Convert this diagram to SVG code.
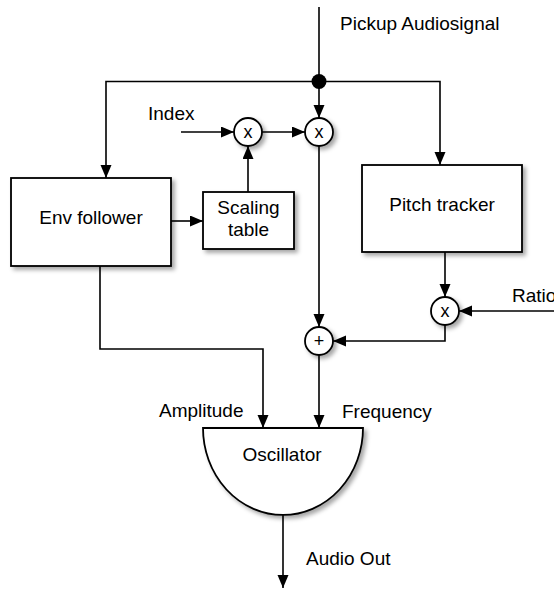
<svg xmlns="http://www.w3.org/2000/svg" width="554" height="591" viewBox="0 0 554 591">
<style>
  .ln{fill:none;stroke:#000;stroke-width:1.6}
  .bx{fill:#fff;stroke:#000;stroke-width:1.8;filter:url(#sh)}
  .t{font-family:"Liberation Sans",Arial,sans-serif;font-size:19px;fill:#000}
  .op{font-family:"Liberation Sans",Arial,sans-serif;font-size:18px;fill:#000;text-anchor:middle}
  .m{text-anchor:middle}
</style>
<defs>
  <marker id="ah" markerUnits="userSpaceOnUse" markerWidth="14" markerHeight="12" refX="13" refY="5.5" orient="auto">
    <path d="M0,0 L13,5.5 L0,11 Z" fill="#000"/>
  </marker>
  <filter id="sh" x="-20%" y="-20%" width="150%" height="150%">
    <feDropShadow dx="3" dy="3" stdDeviation="2" flood-color="#000" flood-opacity="0.35"/>
  </filter>
</defs>
<rect width="554" height="591" fill="#fff"/>

<g id="connectors">
  <path class="ln" d="M319,7 V81.5"/>
  <path class="ln" d="M319,81.5 H106 V178" marker-end="url(#ah)"/>
  <path class="ln" d="M319,81.5 H440 V165" marker-end="url(#ah)"/>
  <path class="ln" d="M319,81.5 V118" marker-end="url(#ah)"/>
  <path class="ln" d="M181,132 H234" marker-end="url(#ah)"/>
  <path class="ln" d="M262,132 H305" marker-end="url(#ah)"/>
  <path class="ln" d="M248,192 V146" marker-end="url(#ah)"/>
  <path class="ln" d="M171,221 H203" marker-end="url(#ah)"/>
  <path class="ln" d="M319,146 V327" marker-end="url(#ah)"/>
  <path class="ln" d="M445,252 V297" marker-end="url(#ah)"/>
  <path class="ln" d="M554,311 H459" marker-end="url(#ah)"/>
  <path class="ln" d="M445,325 V341 H333" marker-end="url(#ah)"/>
  <path class="ln" d="M100,266 V349 H263 V428" marker-end="url(#ah)"/>
  <path class="ln" d="M319,355 V428" marker-end="url(#ah)"/>
  <path class="ln" d="M283,515 V588" marker-end="url(#ah)"/>
  <circle cx="319" cy="81.5" r="7.5" fill="#000"/>
</g>

<g id="labels">
  <text class="t" x="340" y="30">Pickup Audiosignal</text>
  <text class="t" x="148" y="120">Index</text>
  <text class="t" x="512" y="302">Ratio</text>
  <text class="t" x="159" y="417">Amplitude</text>
  <text class="t" x="342" y="418">Frequency</text>
  <text class="t" x="306" y="565">Audio Out</text>
</g>

<g id="env-follower">
  <rect class="bx" x="11" y="178" width="160" height="88"/>
  <text class="t m" x="91" y="224">Env follower</text>
</g>
<g id="scaling-table">
  <rect class="bx" x="203" y="192" width="91" height="57"/>
  <text class="t m" x="248.5" y="214">Scaling</text>
  <text class="t m" x="248.5" y="236">table</text>
</g>
<g id="pitch-tracker">
  <rect class="bx" x="362" y="165" width="160" height="87"/>
  <text class="t m" x="442" y="211">Pitch tracker</text>
</g>
<g id="mul-index">
  <circle class="bx" cx="248" cy="132" r="14"/>
  <text class="op" x="248" y="137.5">x</text>
</g>
<g id="mul-signal">
  <circle class="bx" cx="319" cy="132" r="14"/>
  <text class="op" x="319" y="137.5">x</text>
</g>
<g id="mul-ratio">
  <circle class="bx" cx="445" cy="311" r="14"/>
  <text class="op" x="445" y="316.5">x</text>
</g>
<g id="adder">
  <circle class="bx" cx="319" cy="341" r="14"/>
  <text class="op" x="319" y="347">+</text>
</g>
<g id="oscillator">
  <path class="bx" d="M203,428 H363 A80,87 0 0 1 203,428 Z"/>
  <text class="t m" x="282" y="461">Oscillator</text>
</g>
</svg>
